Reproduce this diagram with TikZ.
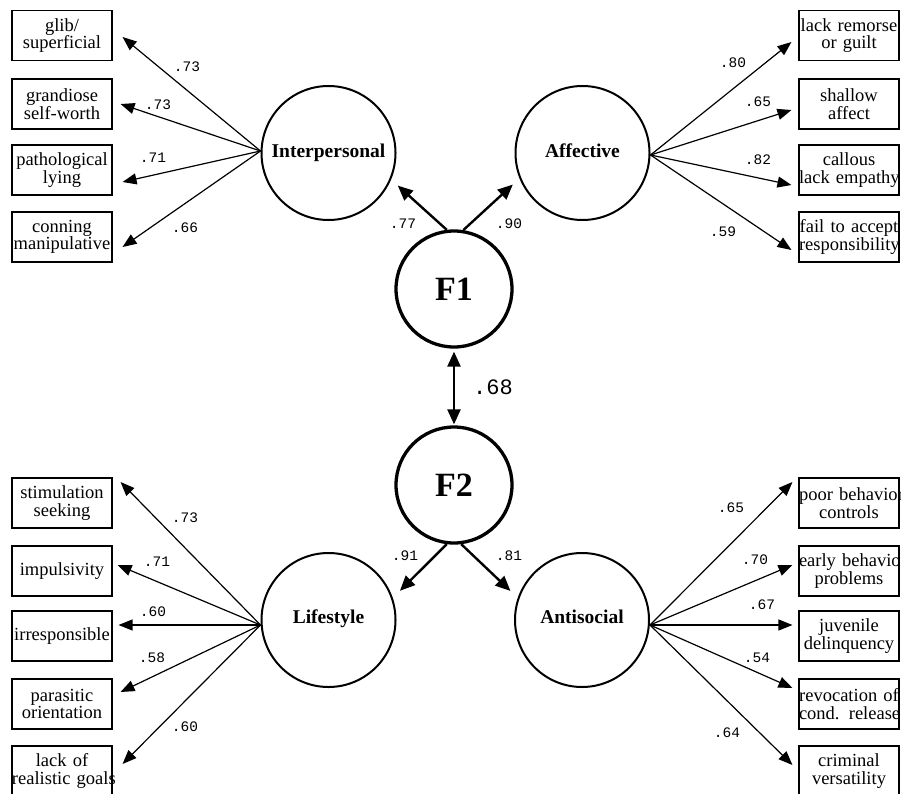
\documentclass[tikz,border=0pt]{standalone}
\usepackage{fontspec}
\setmainfont{Liberation Serif}
\setmonofont{Liberation Mono}
\usetikzlibrary{arrows.meta}

\begin{document}
\begin{tikzpicture}[x=1pt,y=-1pt,
    indic/.style={draw, line width=1.1pt, minimum width=100pt, minimum height=50pt,
      inner xsep=0pt, text width=100pt, align=center, font=\fontsize{18.5}{17.5}\selectfont},
    latent/.style={draw, circle, line width=2pt, minimum size=134pt,
      font=\fontsize{19.5}{20}\selectfont\bfseries},
    factor/.style={draw, circle, line width=3.3pt, minimum size=116pt,
      font=\fontsize{34}{36}\selectfont\bfseries},
    loadarrow/.style={-{Triangle[length=14pt,width=11pt]}, line width=1.2pt},
    facarrow/.style={-{Triangle[length=15pt,width=13pt]}, line width=2.4pt},
    coef/.style={font=\ttfamily\fontsize{14.5}{14.5}\selectfont}]
  \useasboundingbox (0,0) rectangle (901,794);
  % ------ facteurs -----------------
  \node [factor] (F1) at (454,289) {F1};
  \node [factor] (F2) at (454,485) {F2};
  \draw [facarrow, {Triangle[length=15pt,width=13pt]}-{Triangle[length=15pt,width=13pt]},
    shorten <=3pt, shorten >=1pt] (F1) -- (F2);
  \node [coef, font=\ttfamily\fontsize{22}{22}\selectfont] at (493,387) {.68};
  % ------ traits -----------------
  \node [latent] (inter) at (328.5,153) {\raisebox{5pt}{Interpersonal}};
  \node [latent] (affect) at (582.5,153) {\raisebox{5pt}{Affective}};
  \node [latent] (life) at (328.5,620) {\raisebox{6pt}{Lifestyle}};
  \node [latent] (anti) at (582,620) {\raisebox{6pt}{Antisocial}};
  \draw [facarrow, shorten >=9pt] (F1.97) -- (inter.-23);
  \draw [facarrow, shorten >=9pt] (F1.81) -- (affect.-158);
  \draw [facarrow, shorten >=10pt] (F2.-97) -- (life.19);
  \draw [facarrow, shorten >=10pt] (F2.-83) -- (anti.161);
  \node [coef] at (403,224) {.77};
  \node [coef] at (509,224) {.90};
  \node [coef] at (405,556) {.91};
  \node [coef] at (509,556) {.81};
  % ------ Interpersonal -----------------
  \node [indic] (glib) at (62,35.5) {glib/\\superficial};
  \node [indic] (grand) at (62,104) {grandiose\\self-worth};
  \node [indic] (lying) at (62,170) {pathological\\lying};
  \node [indic] (conning) at (62,237) {conning\\manipulative};
  \draw [loadarrow] ([yshift=2pt]inter.west) -- ([xshift=10pt,yshift=-1.5pt]glib.east);
  \draw [loadarrow] ([yshift=2pt]inter.west) -- ([xshift=8pt]grand.east);
  \draw [loadarrow] ([yshift=2pt]inter.west) -- ([xshift=10pt,yshift=-12pt]lying.east);
  \draw [loadarrow] ([yshift=2pt]inter.west) -- ([xshift=10pt,yshift=-10pt]conning.east);
  \node [coef] at (187,67) {.73};
  \node [coef] at (158,105) {.73};
  \node [coef] at (153,158) {.71};
  \node [coef] at (185,228) {.66};
  % ------ Affective -----------------
  \node [indic] (remorse) at (849,35.5) {\mbox{lack remorse}\\or guilt};
  \node [indic] (shallow) at (849,104) {shallow\\affect};
  \node [indic] (callous) at (849,170) {callous\\\mbox{lack empathy}};
  \node [indic] (respons) at (849,237) {\mbox{fail to accept}\\\mbox{responsibility}};
  \draw [loadarrow] ([yshift=-2pt]affect.east) -- ([xshift=-7pt,yshift=-6.5pt]remorse.west);
  \draw [loadarrow] ([yshift=-2pt]affect.east) -- ([xshift=-7pt,yshift=-6pt]shallow.west);
  \draw [loadarrow] ([yshift=-2pt]affect.east) -- ([xshift=-7pt,yshift=-15pt]callous.west);
  \draw [loadarrow] ([yshift=-2pt]affect.east) -- ([xshift=-7pt,yshift=-13pt]respons.west);
  \node [coef] at (733,63) {.80};
  \node [coef] at (758,102) {.65};
  \node [coef] at (758,160) {.82};
  \node [coef] at (723,232) {.59};
  % ------ Lifestyle -----------------
  \node [indic] (stim) at (62,503) {stimulation\\seeking};
  \node [indic] (impuls) at (62,571) {impulsivity};
  \node [indic] (irresp) at (62,636) {\mbox{irresponsible}};
  \node [indic] (parasit) at (62,704) {parasitic\\orientation};
  \node [indic] (goals) at (62,771) {lack of\\\mbox{realistic goals}};
  \draw [loadarrow] ([yshift=-5pt]life.west) -- ([xshift=8pt,yshift=21pt]stim.east);
  \draw [loadarrow] ([yshift=-5pt]life.west) -- ([xshift=5pt,yshift=6pt]impuls.east);
  \draw [loadarrow] ([yshift=-5pt]life.west) -- ([xshift=6pt,yshift=11pt]irresp.east);
  \draw [loadarrow] ([yshift=-5pt]life.west) -- ([xshift=8pt,yshift=12pt]parasit.east);
  \draw [loadarrow] ([yshift=-5pt]life.west) -- ([xshift=10pt,yshift=7pt]goals.east);
  \node [coef] at (185,518) {.73};
  \node [coef] at (157,562) {.71};
  \node [coef] at (153,612) {.60};
  \node [coef] at (152,658) {.58};
  \node [coef] at (185,727) {.60};
  % ------ Antisocial -----------------
  \node [indic] (poorctl) at (849,503) {\mbox{poor behavior}\\controls};
  \node [indic] (early) at (849,571) {\mbox{early behavior}\\problems};
  \node [indic] (juvenile) at (849,636) {juvenile\\\mbox{delinquency}};
  \node [indic] (revoc) at (849,704) {\mbox{revocation of}\\\mbox{cond. release}};
  \node [indic] (versat) at (849,771) {criminal\\versatility};
  \draw [loadarrow] ([yshift=-5pt]anti.east) -- ([xshift=-6pt,yshift=21pt]poorctl.west);
  \draw [loadarrow] ([yshift=-5pt]anti.east) -- ([xshift=-6pt,yshift=6pt]early.west);
  \draw [loadarrow] ([yshift=-5pt]anti.east) -- ([xshift=-6pt,yshift=11pt]juvenile.west);
  \draw [loadarrow] ([yshift=-5pt]anti.east) -- ([xshift=-6pt,yshift=16pt]revoc.west);
  \draw [loadarrow] ([yshift=-5pt]anti.east) -- ([xshift=-6pt,yshift=6pt]versat.west);
  \node [coef] at (731,508) {.65};
  \node [coef] at (755,560) {.70};
  \node [coef] at (762,605) {.67};
  \node [coef] at (757,658) {.54};
  \node [coef] at (727,733) {.64};
\end{tikzpicture}
\end{document}
